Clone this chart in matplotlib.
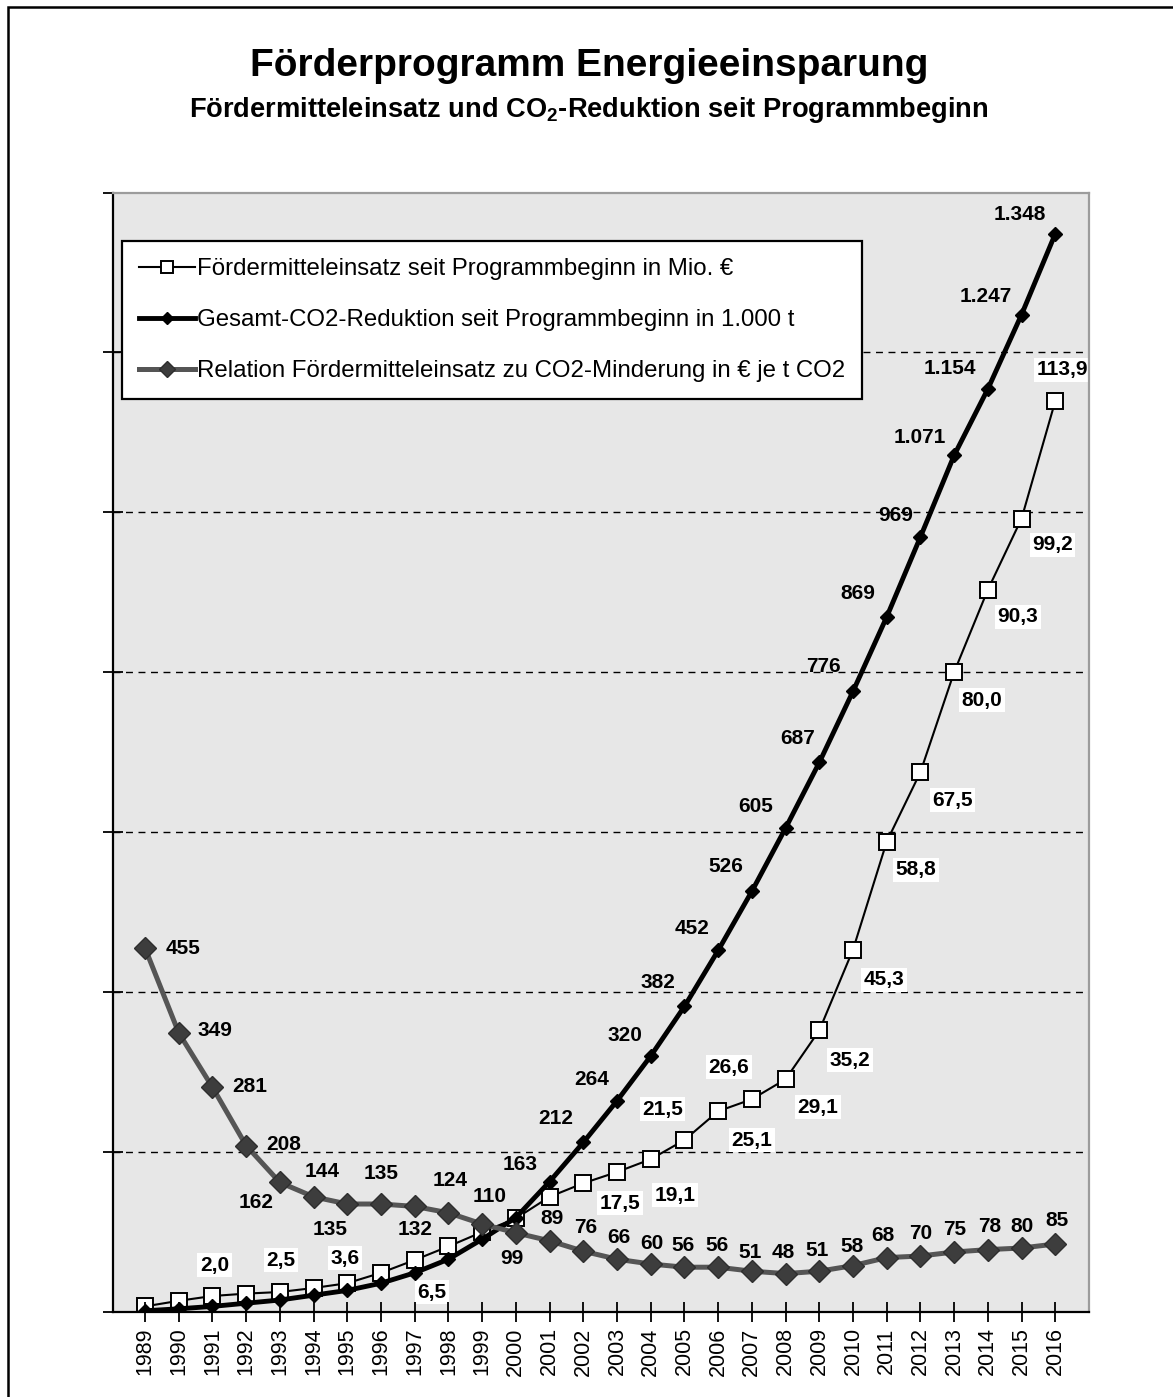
import matplotlib
matplotlib.use("Agg")
import matplotlib.pyplot as plt
from matplotlib.patches import Rectangle

# ---------------------------------------------------------------- data
years = ["1989", "1990", "1991", "1992", "1993", "1994", "1995", "1996",
         "1997", "1998", "1999", "2000", "2001", "2002", "2003", "2004",
         "2005", "2006", "2007", "2008", "2009", "2010", "2011", "2012",
         "2013", "2014", "2015", "2016"]

# Fördermitteleinsatz seit Programmbeginn (Mio. EUR)
funding_mio_eur = [0.7, 1.4, 2.0, 2.3, 2.5, 3.0, 3.6, 4.9, 6.5, 8.2, 10.0,
                   11.7, 14.4, 16.1, 17.5, 19.1, 21.5, 25.1, 26.6, 29.1,
                   35.2, 45.3, 58.8, 67.5, 80.0, 90.3, 99.2, 113.9]

# Gesamt-CO2-Reduktion seit Programmbeginn (1.000 t)
co2_reduction_kt = [1.5, 4, 7, 11, 15, 21, 27, 36, 49, 66, 91, 118, 163,
                    212, 264, 320, 382, 452, 526, 605, 687, 776, 869, 969,
                    1071, 1154, 1247, 1348]

# Relation Fördermitteleinsatz zu CO2-Minderung (EUR je t CO2)
eur_per_t_co2 = [455, 349, 281, 208, 162, 144, 135, 135, 132, 124, 110, 99,
                 89, 76, 66, 60, 56, 56, 51, 48, 51, 58, 68, 70, 75, 78, 80,
                 85]

series_names = [
    "Fördermitteleinsatz seit Programmbeginn in Mio. €",
    "Gesamt-CO2-Reduktion seit Programmbeginn in 1.000 t",
    "Relation Fördermitteleinsatz zu CO2-Minderung in € je t CO2",
]
title = "Förderprogramm Energieeinsparung"
subtitle = r"Fördermitteleinsatz und CO$_{\mathbf{2}}$-Reduktion seit Programmbeginn"

primary_ticks = [0, 200, 400, 600, 800, 1000, 1200, 1400]
secondary_grid = [20, 40, 60, 80, 100, 120]

# ------------------------------------------------- label placement (pixels,
# dx to the right, dy downwards)
funding_label_offsets = {
    "1991": (2, -31), "1993": (1, -32), "1995": (-2, -25), "1997": (17, 32),
    "2003": (3, 31), "2004": (24, 36), "2005": (-22, -31), "2006": (34, 29),
    "2007": (-23, -32), "2008": (32, 28), "2009": (31, 30), "2010": (31, 30),
    "2011": (29, 28), "2012": (32, 28), "2013": (28, 28), "2014": (30, 27),
    "2015": (31, 26), "2016": (7, -31),
}
co2_label_offsets = {
    "2001": (-29, -17), "2002": (-28, -24), "2003": (-25, -21),
    "2004": (-26, -21), "2005": (-27, -24), "2006": (-26, -22),
    "2007": (-26, -25), "2008": (-30, -22), "2009": (-22, -24),
    "2010": (-30, -25), "2011": (-29, -23), "2012": (-25, -21),
    "2013": (-34, -18), "2014": (-38, -20), "2015": (-36, -18),
    "2016": (-35, -19),
}
ratio_label_offsets = [
    (38, 0), (36, -2), (37, -1), (38, -1), (-24, 20), (9, -25), (-17, 25),
    (0, -31), (0, 23), (2, -32), (7, -28), (-4, 26), (2, -22), (2, -24),
    (2, -22), (1, -21), (-1, -22), (-1, -22), (-2, -19), (-2, -21),
    (-2, -21), (-1, -19), (-4, -22), (0, -23), (1, -23), (2, -23), (0, -22),
    (2, -24),
]

# ---------------------------------------------------------------- style
W, H = 1173, 1397
plt.rcParams["font.family"] = ["Liberation Sans", "DejaVu Sans"]
plt.rcParams["mathtext.fontset"] = "custom"
plt.rcParams["mathtext.rm"] = "Liberation Sans"
plt.rcParams["mathtext.bf"] = "Liberation Sans:bold"

PLOT_BG = "#e7e7e7"
GREY_LINE = "#555555"
GREY_MARK = "#3d3d3d"
LABEL_FS = 15


def de_decimal(v):
    return f"{v:.1f}".replace(".", ",")


def de_thousands(v):
    return f"{int(round(v)):,}".replace(",", ".")


fig = plt.figure(figsize=(W / 100, H / 100), dpi=100)
fig.patch.set_facecolor("white")

rect = [113 / W, (H - 1312) / H, (1089 - 113) / W, (1312 - 193) / H]
ax = fig.add_axes(rect)
ax2 = ax.twinx()

# secondary axes sits underneath and carries the background and grid
ax.set_zorder(2)
ax2.set_zorder(1)
ax.patch.set_visible(False)
ax2.patch.set_visible(True)
ax2.patch.set_facecolor(PLOT_BG)

x = list(range(len(years)))

ax.set_xlim(-0.95, len(years))
ax.set_ylim(primary_ticks[0], 1399)
ax2.set_ylim(0, 139.9)

# dashed horizontal grid
ax2.set_yticks(secondary_grid)
ax2.yaxis.grid(True, linestyle=(0, (5, 4)), color="black", linewidth=1.0)
ax2.tick_params(axis="y", length=0, labelright=False)
for s in ax2.spines.values():
    s.set_visible(False)

# primary axis ticks without labels
ax.set_yticks(primary_ticks[:-1] + [1399])
ax.set_yticklabels([])
ax.tick_params(axis="y", direction="inout", length=15, width=1.3,
               color="black")
ax.set_xticks(x)
ax.set_xticklabels(years, rotation=90, fontsize=15.5)
ax.tick_params(axis="x", direction="inout", length=14, width=1.3, pad=4)

for side in ("left", "bottom"):
    ax.spines[side].set_color("black")
    ax.spines[side].set_linewidth(1.6)
for side in ("top", "right"):
    ax.spines[side].set_color("#9c9c9c")
    ax.spines[side].set_linewidth(1.6)

# ---------------------------------------------------------------- series
h_fund, = ax2.plot(x, funding_mio_eur, color="black", linewidth=1.5,
                   marker="s", markersize=11.5, markerfacecolor="white",
                   markeredgecolor="black", markeredgewidth=1.4,
                   label=series_names[0], zorder=3)
h_co2, = ax.plot(x, co2_reduction_kt, color="black", linewidth=3.5,
                 marker="D", markersize=7.5, markerfacecolor="black",
                 markeredgecolor="black", label=series_names[1], zorder=4)
h_rat, = ax.plot(x, eur_per_t_co2, color=GREY_LINE, linewidth=3.6,
                 marker="D", markersize=11.5, markerfacecolor=GREY_MARK,
                 markeredgecolor="#2e2e2e", markeredgewidth=1.0,
                 label=series_names[2], zorder=5)

# ---------------------------------------------------------------- labels
for i, yr in enumerate(years):
    if yr in funding_label_offsets:
        dx, dy = funding_label_offsets[yr]
        ax2.annotate(de_decimal(funding_mio_eur[i]), xy=(i, funding_mio_eur[i]),
                     xytext=(dx, -dy), textcoords="offset pixels",
                     ha="center", va="center", fontsize=LABEL_FS,
                     fontweight="bold", zorder=6,
                     bbox=dict(boxstyle="square,pad=0.12", fc="white",
                               ec="none"))
    if yr in co2_label_offsets:
        dx, dy = co2_label_offsets[yr]
        ax.annotate(de_thousands(co2_reduction_kt[i]),
                    xy=(i, co2_reduction_kt[i]), xytext=(dx, -dy),
                    textcoords="offset pixels", ha="center", va="center",
                    fontsize=LABEL_FS, fontweight="bold", zorder=6)
    dx, dy = ratio_label_offsets[i]
    ax.annotate(str(eur_per_t_co2[i]), xy=(i, eur_per_t_co2[i]),
                xytext=(dx, -dy), textcoords="offset pixels",
                ha="center", va="center", fontsize=LABEL_FS,
                fontweight="bold", zorder=6)

# ---------------------------------------------------------------- legend
leg = ax.legend(handles=[h_fund, h_co2, h_rat], loc="upper left",
                bbox_to_anchor=((122 - 113) / 976, 1 - (241 - 193) / 1119),
                borderaxespad=0, fontsize=17.3, frameon=True, fancybox=False,
                borderpad=0.72, labelspacing=1.2, handlelength=2.3,
                handletextpad=0.1, markerscale=0.75)
leg.get_frame().set_edgecolor("black")
leg.get_frame().set_linewidth(1.6)
leg.get_frame().set_facecolor("white")
leg.get_frame().set_alpha(1)
leg.set_zorder(10)

# ---------------------------------------------------------------- titles
fig.text(589 / W, 1 - 66 / H, title, ha="center", va="center",
         fontsize=28, fontweight="bold")
fig.text(589 / W, 1 - 110 / H, subtitle, ha="center", va="center",
         fontsize=19.6, fontweight="bold")

# outer frame of the sheet
fig.add_artist(Rectangle((8 / W, -0.1), 1.2, 1.1 - 7 / H,
                         transform=fig.transFigure, fill=False,
                         edgecolor="black", linewidth=1.8))

fig.savefig("out.png", dpi=100)
